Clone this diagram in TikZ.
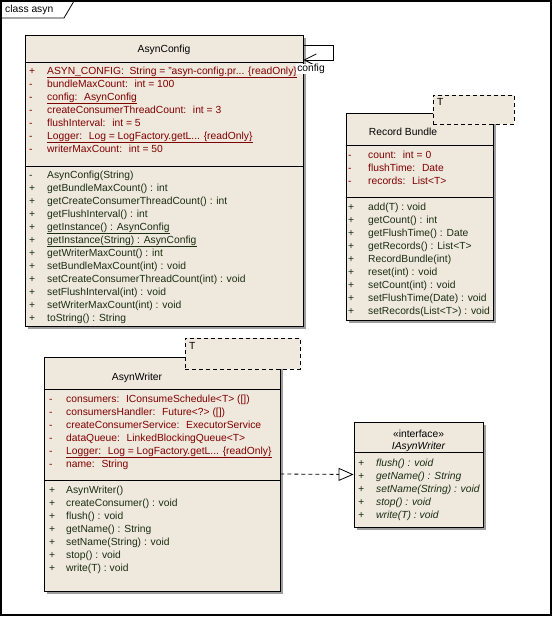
\documentclass[tikz,border=0pt]{standalone}
\usepackage{fontspec}
\setmainfont{Liberation Sans}
\usetikzlibrary{shadows,arrows.meta}
\definecolor{attrc}{HTML}{800000}
\definecolor{opc}{HTML}{1A2E12}
\definecolor{boxfill}{HTML}{EFE8DD}
\tikzset{
  base/.style={anchor=west, inner sep=0pt, text height=7.5pt, text depth=2pt, font=\fontsize{10.3}{12}\selectfont},
  attr/.style={base, text=attrc},
  op/.style={base, text=opc},
  iop/.style={base, text=opc, font=\fontsize{10.3}{12}\selectfont\itshape},
  ttl/.style={base, anchor=center, text=black},
  classbox/.style={draw=black, line width=0.9pt, fill=boxfill, inner sep=0pt,
    drop shadow={shadow xshift=3pt, shadow yshift=-3pt, fill=black!38, opacity=1}},
  tmplbox/.style={draw=black, line width=0.9pt, fill=boxfill, dash pattern=on 4pt off 3pt, inner sep=0pt},
  sep/.style={draw=black, line width=0.9pt},
  uline/.style={line width=0.8pt},
  realize/.style={draw=black, line width=0.8pt, dash pattern=on 4pt off 3pt,
    -{Triangle[open, length=15pt, width=13pt, fill=white]}},
  assoc/.style={draw=black, line width=0.8pt, -{Straight Barb[length=12pt, width=12pt]}},
}
\newcommand\umlrow[7]{\node[#7] (#1v) at (#2,#4) {#5}; \node[#7] (#1) at (#3,#4) {#6};}
\begin{document}
\begin{tikzpicture}[x=1pt, y=-1pt]
\useasboundingbox (0,0) rectangle (553,617);
% frame
\node[draw=black, line width=1.2pt, minimum width=550pt, minimum height=614pt, inner sep=0pt] (frame) at (276,308) {};
\draw[line width=0.8pt] (1,18) -- (64,18) -- (74,1);
\node[base, text=black] (framettl) at (5,10) {class asyn};

% ===== AsynConfig =====
\node[classbox, minimum width=278pt, minimum height=291pt] (cfg) at (164,180.5) {};
\draw[sep] (cfg.west |- 0,62) -- (cfg.east |- 0,62);
\draw[sep] (cfg.west |- 0,166) -- (cfg.east |- 0,166);
\node[ttl] (cfgt) at (164,50) {AsynConfig};
\umlrow{ca1}{29}{47}{72}{+}{ASYN\_CONFIG:~ String = "asyn-config.pr... \{readOnly\}}{attr}
\umlrow{ca2}{29}{47}{85}{-}{bundleMaxCount:~ int = 100}{attr}
\umlrow{ca3}{29}{47}{98}{-}{config:~ AsynConfig}{attr}
\umlrow{ca4}{29}{47}{111}{-}{createConsumerThreadCount:~ int = 3}{attr}
\umlrow{ca5}{29}{47}{124}{-}{flushInterval:~ int = 5}{attr}
\umlrow{ca6}{29}{47}{137}{-}{Logger:~ Log = LogFactory.getL... \{readOnly\}}{attr}
\umlrow{ca7}{29}{47}{150}{-}{writerMaxCount:~ int = 50}{attr}
\draw[uline, attrc] (ca1.south west) -- (ca1.south east);
\draw[uline, attrc] (ca3.south west) -- (ca3.south east);
\draw[uline, attrc] (ca6.south west) -- (ca6.south east);
\umlrow{co1}{29}{47}{176}{-}{AsynConfig(String)}{op}
\umlrow{co2}{29}{47}{189}{+}{getBundleMaxCount() : int}{op}
\umlrow{co3}{29}{47}{202}{+}{getCreateConsumerThreadCount() : int}{op}
\umlrow{co4}{29}{47}{215}{+}{getFlushInterval() : int}{op}
\umlrow{co5}{29}{47}{228}{+}{getInstance() : AsynConfig}{op}
\umlrow{co6}{29}{47}{241}{+}{getInstance(String) : AsynConfig}{op}
\umlrow{co7}{29}{47}{254}{+}{getWriterMaxCount() : int}{op}
\umlrow{co8}{29}{47}{267}{+}{setBundleMaxCount(int) : void}{op}
\umlrow{co9}{29}{47}{280}{+}{setCreateConsumerThreadCount(int) : void}{op}
\umlrow{co10}{29}{47}{293}{+}{setFlushInterval(int) : void}{op}
\umlrow{co11}{29}{47}{306}{+}{setWriterMaxCount(int) : void}{op}
\umlrow{co12}{29}{47}{319}{+}{toString() : String}{op}
\draw[uline, opc] (co5.south west) -- (co5.south east);
\draw[uline, opc] (co6.south west) -- (co6.south east);

% self association
\coordinate (s1) at (333,45);
\coordinate (s2) at (333,60);
\draw[assoc] (cfg.east |- s1) -- (s1) -- (s2) -- (cfg.east |- s2);
\node[base, anchor=center, fill=white, inner xsep=1pt, text=black] (cfglbl) at (311,69) {config};

% ===== RecordBundle =====
\node[classbox, minimum width=147pt, minimum height=207pt] (rb) at (419.5,216.5) {};
\draw[sep] (rb.west |- 0,145) -- (rb.east |- 0,145);
\draw[sep] (rb.west |- 0,197) -- (rb.east |- 0,197);
\node[tmplbox, minimum width=81pt, minimum height=29pt] (rbT) at (473.5,109.5) {};
\node[base, text=black] (rbTt) at (437,103) {T};
\node[ttl] (rbt) at (403,133) {Record Bundle};
\umlrow{ra1}{348}{368}{156}{-}{count:~ int = 0}{attr}
\umlrow{ra2}{348}{368}{169}{-}{flushTime:~ Date}{attr}
\umlrow{ra3}{348}{368}{182}{-}{records:~ List<T>}{attr}
\umlrow{ro1}{348}{368}{208}{+}{add(T) : void}{op}
\umlrow{ro2}{348}{368}{221}{+}{getCount() : int}{op}
\umlrow{ro3}{348}{368}{234}{+}{getFlushTime() : Date}{op}
\umlrow{ro4}{348}{368}{247}{+}{getRecords() : List<T>}{op}
\umlrow{ro5}{348}{368}{260}{+}{RecordBundle(int)}{op}
\umlrow{ro6}{348}{368}{273}{+}{reset(int) : void}{op}
\umlrow{ro7}{348}{368}{286}{+}{setCount(int) : void}{op}
\umlrow{ro8}{348}{368}{299}{+}{setFlushTime(Date) : void}{op}
\umlrow{ro9}{348}{368}{312}{+}{setRecords(List<T>) : void}{op}

% ===== AsynWriter =====
\node[classbox, minimum width=236pt, minimum height=234pt] (aw) at (162,474) {};
\draw[sep] (aw.west |- 0,389) -- (aw.east |- 0,389);
\draw[sep] (aw.west |- 0,480) -- (aw.east |- 0,480);
\node[tmplbox, minimum width=115pt, minimum height=31pt] (awT) at (242.5,353.5) {};
\node[base, text=black] (awTt) at (189,347) {T};
\node[ttl] (awt) at (137,378) {AsynWriter};
\umlrow{wa1}{49}{66}{400}{-}{consumers:~ IConsumeSchedule<T> ([])}{attr}
\umlrow{wa2}{49}{66}{413}{-}{consumersHandler:~ Future<?> ([])}{attr}
\umlrow{wa3}{49}{66}{426}{-}{createConsumerService:~ ExecutorService}{attr}
\umlrow{wa4}{49}{66}{439}{-}{dataQueue:~ LinkedBlockingQueue<T>}{attr}
\umlrow{wa5}{49}{66}{452}{-}{Logger:~ Log = LogFactory.getL... \{readOnly\}}{attr}
\umlrow{wa6}{49}{66}{465}{-}{name:~ String}{attr}
\draw[uline, attrc] (wa5.south west) -- (wa5.south east);
\umlrow{wo1}{49}{66}{491}{+}{AsynWriter()}{op}
\umlrow{wo2}{49}{66}{504}{+}{createConsumer() : void}{op}
\umlrow{wo3}{49}{66}{517}{+}{flush() : void}{op}
\umlrow{wo4}{49}{66}{530}{+}{getName() : String}{op}
\umlrow{wo5}{49}{66}{543}{+}{setName(String) : void}{op}
\umlrow{wo6}{49}{66}{556}{+}{stop() : void}{op}
\umlrow{wo7}{49}{66}{569}{+}{write(T) : void}{op}

% ===== IAsynWriter =====
\node[classbox, minimum width=129pt, minimum height=105pt] (ia) at (418.5,474.5) {};
\draw[sep] (ia.west |- 0,452) -- (ia.east |- 0,452);
\node[ttl] (iast) at (418.5,435) {«interface»};
\node[ttl, font=\fontsize{10.3}{12}\selectfont\itshape] (iat) at (418.5,447) {IAsynWriter};
\umlrow{io1}{358}{376}{464}{+}{flush() : void}{iop}
\umlrow{io2}{358}{376}{477}{+}{getName() : String}{iop}
\umlrow{io3}{358}{376}{490}{+}{setName(String) : void}{iop}
\umlrow{io4}{358}{376}{503}{+}{stop() : void}{iop}
\umlrow{io5}{358}{376}{516}{+}{write(T) : void}{iop}

% realization
\draw[realize] (aw.east) -- (ia.west);
\end{tikzpicture}
\end{document}
